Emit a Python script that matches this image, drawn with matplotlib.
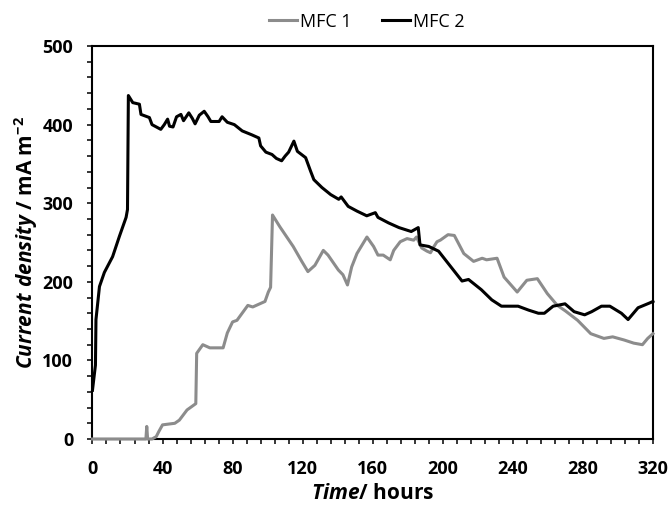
import matplotlib
matplotlib.use('Agg')
import matplotlib.pyplot as plt
from matplotlib.ticker import MultipleLocator

# 读取数据
mfc1_t = [0, 30.5, 31, 31.5, 34, 36.4, 38, 40, 47, 49.6, 54, 59, 59.5, 63, 67, 74.6, 77, 80, 82.5,
          88.7, 91.5, 98.5, 100.4, 101.7, 102.8, 107, 114.6, 119.5, 123, 127, 131.8, 134.5, 140.4,
          143, 145.6, 148, 151, 156.7, 160.5, 163, 166, 170, 172, 175.7, 179.6, 183.4, 185, 188,
          191, 193, 195, 196.7, 198.6, 203, 206.6, 212, 217.6, 222.5, 225, 231, 235, 242.5, 248,
          254, 259.7, 265.4, 270, 277, 284.5, 292, 297, 303.5, 309, 314, 317, 320]
mfc1_j = [0, 0, 16, 0, 0, 3, 10, 18, 20, 24, 37, 45, 109, 120, 116, 116, 135, 149, 151,
          170, 168, 175, 187, 193, 285, 270, 245, 226, 213, 221, 240, 234, 215,
          209, 196, 219, 236, 257, 245, 234, 234, 228, 240, 251, 255, 253, 257, 243,
          239, 237, 245, 251, 253, 260, 259, 236, 226, 230, 228, 230, 206, 187, 202,
          204, 185, 170, 163, 151, 134, 128, 130, 126, 122, 120, 128, 134]

mfc2_t = [0, 1.7, 2, 4, 6.8, 11.5, 15.4, 19.2, 20, 20.5, 23, 26.8, 27.7, 32.5, 34, 39, 41, 42.9,
          44, 46, 48, 50.5, 52, 55, 57, 58.6, 61, 63.8, 66, 67.6, 72.3, 74, 77, 81, 85.5, 91, 95,
          96, 99, 102.5, 105, 108, 110, 112, 115, 117, 121.7, 124.5, 126.4, 131, 136, 140.6, 142,
          146, 151, 156.6, 161.5, 163, 169, 175, 182, 186, 187, 192, 197.6, 205, 211, 214.7, 222,
          228, 233.5, 243, 249, 254.6, 258, 263, 269.8, 275, 281, 285, 290.6, 295.4, 302, 305.8,
          311.5, 318, 320]
mfc2_j = [62, 94, 152, 194, 212, 232, 258, 282, 292, 437, 428, 426, 413, 409, 400, 394, 400, 407,
          398, 397, 410, 413, 405, 415, 408, 401, 412, 417, 410, 404, 404, 410, 403, 400, 392, 387, 383,
          373, 365, 362, 357, 354, 360, 365, 379, 366, 358, 341, 330, 320, 311, 305, 308,
          296, 290, 284, 288, 282, 275, 269, 264, 269, 247, 245, 239, 218, 201, 203, 190,
          177, 169, 169, 164, 160, 160, 169, 172, 162, 158, 162, 169, 169, 160, 152,
          167, 173, 175]

plt.rcParams['font.family'] = ['Open Sans', 'DejaVu Sans']
plt.rcParams['mathtext.fontset'] = 'custom'
plt.rcParams['mathtext.it'] = 'Open Sans:italic:bold'
plt.rcParams['mathtext.rm'] = 'Open Sans:bold'
plt.rcParams['mathtext.bf'] = 'Open Sans:bold'

fig = plt.figure(figsize=(6.71, 5.07), dpi=100)
ax = fig.add_axes([0.1378, 0.1341, 0.8353, 0.7751])

ax.plot(mfc1_t, mfc1_j, color='#8c8c8c', lw=2.2, label='MFC 1', clip_on=False, zorder=3)
ax.plot(mfc2_t, mfc2_j, color='black', lw=2.2, label='MFC 2', clip_on=False, zorder=3)

ax.set_xlim(0, 320)
ax.set_ylim(0, 500)
ax.xaxis.set_major_locator(MultipleLocator(40))
ax.xaxis.set_minor_locator(MultipleLocator(8))
ax.yaxis.set_major_locator(MultipleLocator(100))
ax.yaxis.set_minor_locator(MultipleLocator(20))
ax.tick_params(which='both', direction='out', length=3.8, width=1.1, labelsize=13)
ax.tick_params(axis='x', pad=11)
ax.tick_params(axis='y', pad=10)
for lab in ax.get_xticklabels() + ax.get_yticklabels():
    lab.set_fontweight('bold')
for s in ax.spines.values():
    s.set_linewidth(1.5)

ax.set_xlabel(r'$\mathit{Time}$/ hours', fontsize=15, fontweight='bold', labelpad=4)
ax.set_ylabel(r'$\mathit{Current\ density}$ / mA m$^{-2}$', fontsize=15, fontweight='bold', labelpad=2)

fig.legend(loc='center', bbox_to_anchor=(0.547, 0.957), ncol=2, frameon=False, fontsize=13,
           handlelength=1.55, columnspacing=1.7, handletextpad=0.15)

plt.savefig('out.png', dpi=100)
